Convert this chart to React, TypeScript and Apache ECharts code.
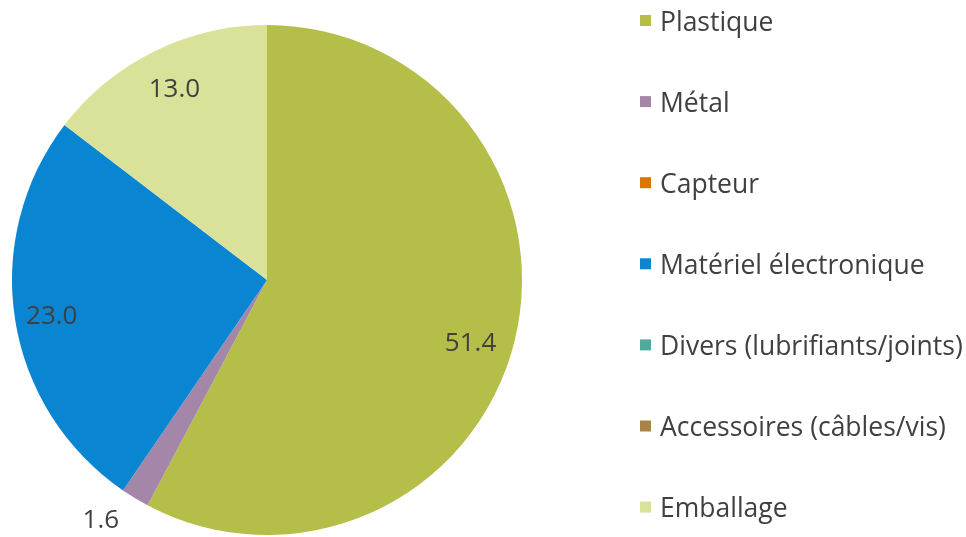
import React, { useEffect, useRef } from "react";
import * as echarts from "echarts";

const categories = [
  "Plastique",
  "Métal",
  "Capteur",
  "Matériel électronique",
  "Divers (lubrifiants/joints)",
  "Accessoires (câbles/vis)",
  "Emballage",
];
const values = [51.4, 1.6, 0, 23.0, 0, 0, 13.0];
const colors = ["#B5BE48", "#A487A8", "#DC7400", "#0A85D2", "#4FA99C", "#A98246", "#D9E298"];

const FONT = "'Open Sans', 'Noto Sans', sans-serif";
const TXT = "#404040";

export default function App() {
  const ref = useRef<HTMLDivElement>(null);
  useEffect(() => {
    if (!ref.current) return;
    const chart = echarts.init(ref.current, null, { renderer: "svg" });
    const base = categories.map((n, i) => ({ name: n, value: values[i], itemStyle: { color: colors[i] } }));
    const common = {
      type: "pie" as const,
      center: [267, 280],
      startAngle: 90,
      clockwise: true,
      silent: true,
      emphasis: { disabled: true },
      labelLine: { show: false },
    };
    chart.setOption({
      animation: false,
      legend: {
        orient: "vertical",
        left: 640,
        top: 7,
        padding: 0,
        itemWidth: 11,
        itemHeight: 11,
        itemGap: 54.1,
        icon: "rect",
        selectedMode: false,
        data: categories,
        textStyle: { fontFamily: FONT, fontSize: 26.5, color: TXT, lineHeight: 26, padding: [0, 0, 0, 4] },
      },
      series: [
        {
          ...common,
          name: "main",
          radius: [0, 255],
          label: { show: false },
          data: base,
        },
        {
          ...common,
          name: "labels",
          radius: [175, 255],
          itemStyle: { color: "transparent" },
          label: {
            position: "inside",
            fontFamily: FONT,
            fontSize: 26,
            color: TXT,
            formatter: (p: any) => p.value.toFixed(1),
          },
          labelLayout: (p: any) => (p.dataIndex === 0 ? { dx: -8, dy: 8 } : p.dataIndex === 6 ? { dx: 4, dy: 2 } : {}),
          data: categories.map((n, i) => ({
            name: n,
            value: values[i],
            label: { show: values[i] >= 5 },
          })),
        },
        {
          ...common,
          name: "smallLabels",
          radius: [280, 310],
          itemStyle: { color: "transparent" },
          label: {
            position: "inside",
            fontFamily: FONT,
            fontSize: 26,
            lineHeight: 22,
            color: TXT,
            formatter: (p: any) => p.value.toFixed(1),
          },
          labelLayout: () => ({ dx: -12, dy: -17 }),
          data: categories.map((n, i) => ({
            name: n,
            value: values[i],
            label: { show: values[i] > 0 && values[i] < 5 },
          })),
        },
      ],
    });
    return () => chart.dispose();
  }, []);
  return <div ref={ref} style={{ position: "fixed", left: 0, top: 0, width: 966, height: 537 }} />;
}
